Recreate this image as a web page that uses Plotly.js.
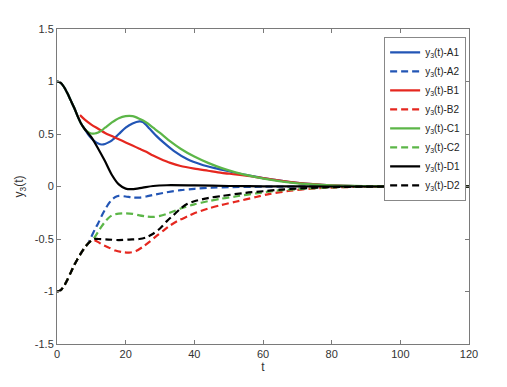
<!DOCTYPE html>
<html>
<head>
<meta charset="utf-8">
<script src="https://cdn.plot.ly/plotly-3.0.1.min.js"></script>
<style>html,body{margin:0;padding:0;background:#fff;}#chart{width:507px;height:387px;}</style>
</head>
<body>
<div id="chart"></div>
<script>
// ---- data ----
const tA1 = [0,1,2,3,4,5,6,7,8,9,10,11,12,13,14,15,16,18,20,22,24,25,27,29,31,34,38,42,46,50,55,60,70,80,90,100,120];
const yA1 = [1.0,0.99,0.95,0.89,0.82,0.75,0.67,0.6,0.55,0.5,0.46,0.43,0.41,0.4,0.405,0.42,0.44,0.5,0.56,0.6,0.62,0.615,0.55,0.48,0.42,0.34,0.26,0.21,0.175,0.145,0.11,0.08,0.035,0.012,0.003,0,0];

const tB1 = [6.7,8,10,12,14,16,18,20,22,24,26,28,30,33,36,40,44,48,52,58,64,70,80,90,100,120];
const yB1 = [0.68,0.64,0.59,0.55,0.51,0.48,0.45,0.42,0.39,0.36,0.33,0.295,0.265,0.225,0.195,0.17,0.15,0.13,0.115,0.09,0.06,0.035,0.012,0.003,0,0];

const tC1 = [0,1,2,3,4,5,6,7,8,9,10,11,12,13,14,16,18,20,22,24,26,28,30,33,36,40,44,48,52,58,62,70,80,90,100,120];
const yC1 = [1.0,0.99,0.95,0.89,0.82,0.75,0.67,0.6,0.55,0.52,0.505,0.505,0.515,0.535,0.56,0.61,0.65,0.67,0.67,0.645,0.61,0.56,0.51,0.43,0.36,0.285,0.225,0.175,0.135,0.09,0.065,0.03,0.01,0.003,0,0];

const tD1 = [0,1,2,3,4,5,6,7,8,9,10,12,14,16,18,20,22,25,28,32,40,50,60,80,100,120];
const yD1 = [1.0,0.99,0.95,0.89,0.82,0.75,0.67,0.6,0.55,0.51,0.47,0.36,0.24,0.11,0.02,-0.02,-0.025,-0.01,0.005,0.012,0.01,0.005,0.002,0,0,0];

const tA2 = [0,1,2,3,4,5,6,7,8,9,10,11,12,13,14,15,16,17,18,20,22,24,26,28,32,36,40,45,50,60,70,120];
const yA2 = [-1.0,-0.99,-0.95,-0.89,-0.82,-0.75,-0.69,-0.635,-0.585,-0.545,-0.48,-0.41,-0.35,-0.28,-0.22,-0.165,-0.125,-0.1,-0.09,-0.095,-0.105,-0.105,-0.095,-0.08,-0.055,-0.035,-0.022,-0.012,-0.006,-0.002,0,0];

const tB2 = [0,1,2,3,4,5,6,7,8,9,10,10.8,12,13,15,17,19,21,23,25,27,29,31,33,35,38,40,44,48,52,58,62,68,74,80,90,100,120];
const yB2 = [-1.0,-0.99,-0.95,-0.89,-0.82,-0.75,-0.69,-0.635,-0.585,-0.545,-0.515,-0.51,-0.53,-0.55,-0.58,-0.61,-0.625,-0.63,-0.615,-0.575,-0.525,-0.47,-0.42,-0.37,-0.33,-0.285,-0.255,-0.21,-0.175,-0.145,-0.1,-0.07,-0.04,-0.02,-0.01,-0.002,0,0];

const tC2 = [0,1,2,3,4,5,6,7,8,9,10,10.8,12,13,14,15,16,18,20,22,24,26,28,30,32,34,36,40,44,48,52,58,64,70,80,90,100,120];
const yC2 = [-1.0,-0.99,-0.95,-0.89,-0.82,-0.75,-0.69,-0.635,-0.585,-0.545,-0.515,-0.49,-0.43,-0.38,-0.335,-0.3,-0.275,-0.258,-0.255,-0.26,-0.275,-0.285,-0.29,-0.28,-0.26,-0.235,-0.21,-0.17,-0.14,-0.115,-0.095,-0.065,-0.04,-0.025,-0.008,-0.002,0,0];

const tD2 = [0,1,2,3,4,5,6,7,8,9,10,10.8,12,15,18,21,24,26,28,30,32,34,36,38,40,44,48,55,60,65,70,80,90,100,120];
const yD2 = [-1.0,-0.99,-0.95,-0.89,-0.82,-0.75,-0.69,-0.635,-0.585,-0.545,-0.515,-0.5,-0.5,-0.505,-0.51,-0.505,-0.5,-0.485,-0.45,-0.4,-0.33,-0.27,-0.21,-0.165,-0.14,-0.11,-0.09,-0.06,-0.045,-0.03,-0.02,-0.006,-0.001,0,0];

const seriesNames = ['y<sub>3</sub>(t)-A1','y<sub>3</sub>(t)-A2','y<sub>3</sub>(t)-B1','y<sub>3</sub>(t)-B2','y<sub>3</sub>(t)-C1','y<sub>3</sub>(t)-C2','y<sub>3</sub>(t)-D1','y<sub>3</sub>(t)-D2'];
const xTicks = [0,20,40,60,80,100,120];
const yTicks = [-1.5,-1,-0.5,0,0.5,1,1.5];
const yTickLabels = ['-1.5','-1','-0.5','0','0.5','1','1.5'];

// ---- styling ----
const BLUE = '#2255b5', RED = '#e5271f', GREEN = '#5cb648', BLACK = '#000000';
const DASH = '7px,4px';
function tr(x, y, name, color, dash) {
  return {x: x, y: y, name: name, type: 'scatter', mode: 'lines',
    line: {color: color, width: 2.2, dash: dash, shape: 'spline', smoothing: 0.8}};
}
const data = [
  tr(tA1, yA1, seriesNames[0], BLUE, 'solid'),
  tr(tA2, yA2, seriesNames[1], BLUE, DASH),
  tr(tB1, yB1, seriesNames[2], RED, 'solid'),
  tr(tB2, yB2, seriesNames[3], RED, DASH),
  tr(tC1, yC1, seriesNames[4], GREEN, 'solid'),
  tr(tC2, yC2, seriesNames[5], GREEN, DASH),
  tr(tD1, yD1, seriesNames[6], BLACK, 'solid'),
  tr(tD2, yD2, seriesNames[7], BLACK, DASH)
];
const axisCommon = {
  showgrid: false, zeroline: false, showline: true, linecolor: '#7a7a7a', linewidth: 1,
  mirror: 'ticks', ticks: 'inside', ticklen: 4, tickcolor: '#7a7a7a', tickwidth: 1,
  tickfont: {family: 'Liberation Sans, Arial, sans-serif', size: 11, color: '#333'}
};
const layout = {
  width: 507, height: 387,
  margin: {l: 57, r: 38, t: 29, b: 43},
  paper_bgcolor: '#fff', plot_bgcolor: '#fff',
  showlegend: true,
  xaxis: Object.assign({}, axisCommon, {
    range: [0, 120], tickvals: xTicks, ticktext: xTicks.map(String),
    title: {text: 't', font: {family: 'Liberation Sans, Arial, sans-serif', size: 12, color: '#333'}, standoff: 2}
  }),
  yaxis: Object.assign({}, axisCommon, {
    range: [-1.5, 1.5], tickvals: yTicks, ticktext: yTickLabels,
    title: {text: 'y<sub>3</sub>(t)', font: {family: 'Liberation Sans, Arial, sans-serif', size: 12, color: '#333'}, standoff: 8}
  }),
  legend: {
    x: 0.794, y: 0.975, xanchor: 'left', yanchor: 'top',
    bgcolor: '#fff', bordercolor: '#888', borderwidth: 1,
    font: {family: 'Liberation Sans, Arial, sans-serif', size: 10, color: '#222'},
    itemwidth: 30, tracegroupgap: 0
  }
};
Plotly.newPlot('chart', data, layout, {displayModeBar: false, staticPlot: true});
</script>
</body>
</html>
